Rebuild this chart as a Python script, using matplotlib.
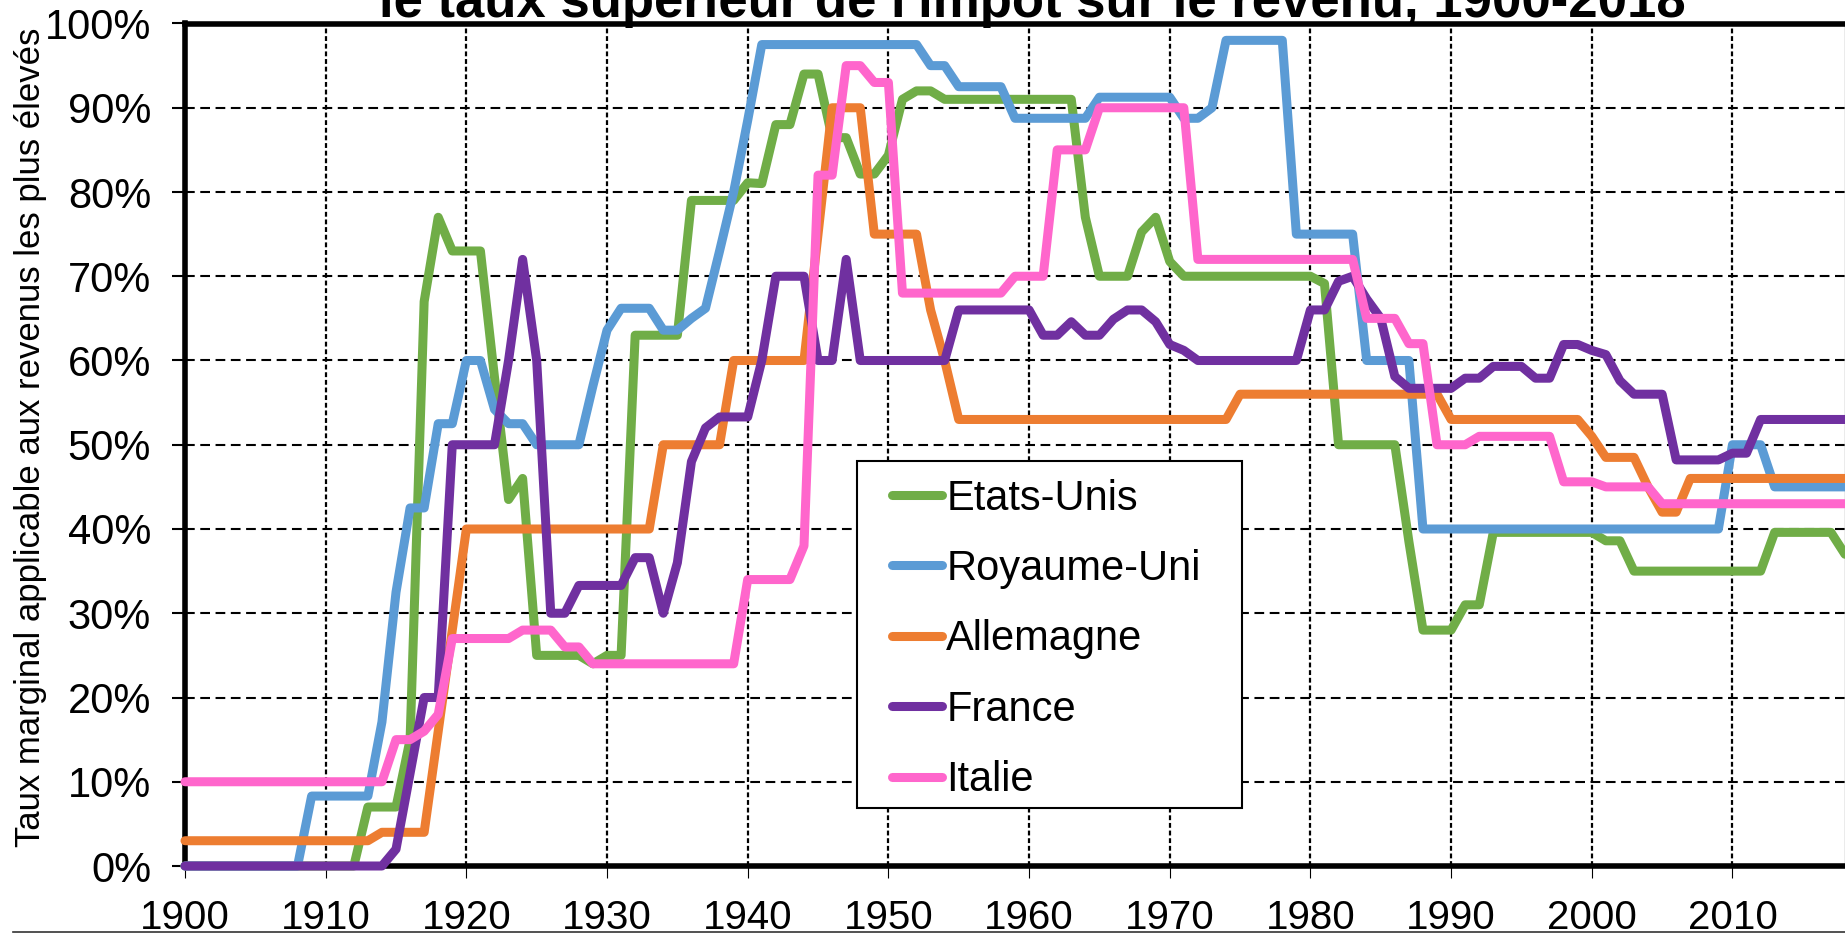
import matplotlib
matplotlib.use('Agg')
import matplotlib.pyplot as plt
from matplotlib.lines import Line2D
from matplotlib.patches import Rectangle
from matplotlib.ticker import PercentFormatter

plt.rcParams['font.family'] = ['Liberation Sans', 'DejaVu Sans']
plt.rcParams['lines.scale_dashes'] = False

# Taux marginal supérieur (%), une valeur par année 1900-2018
annees = list(range(1900, 2019))

etats_unis = [
    0, 0, 0, 0, 0, 0, 0, 0, 0, 0,
    0, 0, 0, 7, 7, 7, 15, 67, 77, 73,
    73, 73, 58, 43.5, 46, 25, 25, 25, 25, 24,
    25, 25, 63, 63, 63, 63, 79, 79, 79, 79,
    81.1, 81, 88, 88, 94, 94, 86.45, 86.45, 82.13, 82.13,
    84.36, 91, 92, 92, 91, 91, 91, 91, 91, 91,
    91, 91, 91, 91, 77, 70, 70, 70, 75.25, 77,
    71.75, 70, 70, 70, 70, 70, 70, 70, 70, 70,
    70, 69.13, 50, 50, 50, 50, 50, 38.5, 28, 28,
    28, 31, 31, 39.6, 39.6, 39.6, 39.6, 39.6, 39.6, 39.6,
    39.6, 38.6, 38.6, 35, 35, 35, 35, 35, 35, 35,
    35, 35, 35, 39.6, 39.6, 39.6, 39.6, 39.6, 37]

royaume_uni = [
    0, 0, 0, 0, 0, 0, 0, 0, 0, 8.3,
    8.3, 8.3, 8.3, 8.3, 17.1, 32.5, 42.5, 42.5, 52.5, 52.5,
    60, 60, 54.2, 52.5, 52.5, 50, 50, 50, 50, 57,
    63.6, 66.2, 66.2, 66.2, 63.6, 63.6, 65, 66.2, 73, 80,
    88.5, 97.5, 97.5, 97.5, 97.5, 97.5, 97.5, 97.5, 97.5, 97.5,
    97.5, 97.5, 97.5, 95, 95, 92.5, 92.5, 92.5, 92.5, 88.75,
    88.75, 88.75, 88.75, 88.75, 88.75, 91.25, 91.25, 91.25, 91.25, 91.25,
    91.25, 88.75, 88.75, 90, 98, 98, 98, 98, 98, 75,
    75, 75, 75, 75, 60, 60, 60, 60, 40, 40,
    40, 40, 40, 40, 40, 40, 40, 40, 40, 40,
    40, 40, 40, 40, 40, 40, 40, 40, 40, 40,
    50, 50, 50, 45, 45, 45, 45, 45, 45]

allemagne = [
    3, 3, 3, 3, 3, 3, 3, 3, 3, 3,
    3, 3, 3, 3, 4, 4, 4, 4, 16, 28,
    40, 40, 40, 40, 40, 40, 40, 40, 40, 40,
    40, 40, 40, 40, 50, 50, 50, 50, 50, 60,
    60, 60, 60, 60, 60, 75, 90, 90, 90, 75,
    75, 75, 75, 66, 60, 53, 53, 53, 53, 53,
    53, 53, 53, 53, 53, 53, 53, 53, 53, 53,
    53, 53, 53, 53, 53, 56, 56, 56, 56, 56,
    56, 56, 56, 56, 56, 56, 56, 56, 56, 56,
    53, 53, 53, 53, 53, 53, 53, 53, 53, 53,
    51, 48.5, 48.5, 48.5, 45, 42, 42, 46, 46, 46,
    46, 46, 46, 46, 46, 46, 46, 46, 46]

france = [
    0, 0, 0, 0, 0, 0, 0, 0, 0, 0,
    0, 0, 0, 0, 0, 2, 11, 20, 20, 50,
    50, 50, 50, 60, 72, 60, 30, 30, 33.3, 33.3,
    33.3, 33.3, 36.6, 36.6, 30, 36, 48, 52, 53.3, 53.3,
    53.3, 60, 70, 70, 70, 60, 60, 72, 60, 60,
    60, 60, 60, 60, 60, 66, 66, 66, 66, 66,
    66, 63, 63, 64.6, 63, 63, 64.9, 66, 66, 64.6,
    61.9, 61.2, 60, 60, 60, 60, 60, 60, 60, 60,
    66, 66, 69.4, 70, 67.3, 65, 58.1, 56.7, 56.7, 56.7,
    56.7, 57.9, 57.9, 59.3, 59.3, 59.3, 57.9, 57.9, 61.9, 61.9,
    61.2, 60.7, 57.6, 56, 56, 56, 48.2, 48.2, 48.2, 48.2,
    49, 49, 53, 53, 53, 53, 53, 53, 53]

italie = [
    10, 10, 10, 10, 10, 10, 10, 10, 10, 10,
    10, 10, 10, 10, 10, 15, 15, 16, 18, 27,
    27, 27, 27, 27, 28, 28, 28, 26, 26, 24,
    24, 24, 24, 24, 24, 24, 24, 24, 24, 24,
    34, 34, 34, 34, 38, 82, 82, 95, 95, 93,
    93, 68, 68, 68, 68, 68, 68, 68, 68, 70,
    70, 70, 85, 85, 85, 90, 90, 90, 90, 90,
    90, 90, 72, 72, 72, 72, 72, 72, 72, 72,
    72, 72, 72, 72, 65, 65, 65, 62, 62, 50,
    50, 50, 51, 51, 51, 51, 51, 51, 45.6, 45.6,
    45.6, 45, 45, 45, 45, 43, 43, 43, 43, 43,
    43, 43, 43, 43, 43, 43, 43, 43, 43]

pays = ['Etats-Unis', 'Royaume-Uni', 'Allemagne', 'France', 'Italie']
series = [etats_unis, royaume_uni, allemagne, france, italie]
couleurs = ['#70AD47', '#5B9BD5', '#ED7D31', '#7030A0', '#FF66CC']

fig = plt.figure(figsize=(18.45, 9.34), dpi=100)
ax = fig.add_axes([185/1845, 1 - 866/934, 1660/1845, 842.5/934])

for nom, serie, c in zip(pays, series, couleurs):
    ax.plot(annees, serie, color=c, lw=6.5, label=nom, zorder=3, clip_on=False,
            solid_joinstyle='round', solid_capstyle='round')

ax.set_xlim(1900, 2018)
ax.set_ylim(0, 100)
ax.set_xticks(range(1900, 2011, 10))
ax.set_yticks(range(0, 101, 10))
ax.yaxis.set_major_formatter(PercentFormatter(decimals=0))

# grille en pointillés
ax.set_axisbelow(True)
ax.grid(axis='y', color='black', lw=1.5, linestyle=(0, (7, 4)))
ax.grid(axis='x', color='black', lw=1.6, linestyle=(0, (3.5, 2)))

ax.tick_params(axis='y', direction='out', length=9.4, width=1.5, pad=15, labelsize=30)
ax.tick_params(axis='x', direction='out', length=8.6, width=0.8, pad=15, labelsize=29)

for s in ['left', 'bottom', 'top']:
    ax.spines[s].set_linewidth(4)
ax.spines['right'].set_linewidth(1)
ax.spines['right'].set_color('#999999')

# légende : cadre dessiné à part
cadre = Rectangle((0.4048, 0.0688), 0.2319, 0.4119, transform=ax.transAxes,
                  facecolor='white', edgecolor='black', lw=1.5, zorder=4, clip_on=False)
ax.add_patch(cadre)
leg = ax.legend(loc='upper left', bbox_to_anchor=(0.4259, 0.4598), frameon=False,
                fontsize=30, handlelength=1.2, handletextpad=0.1, labelspacing=0.73,
                borderpad=0, borderaxespad=0)
leg.set_zorder(5)

fig.text(31/1845, 1 - 437.5/934, 'Taux marginal applicable aux revenus les plus élevés',
         rotation=90, ha='center', va='center', fontsize=25)
fig.text(0.5593, 1 - 16.7/934, "le taux supérieur de l'impôt sur le revenu, 1900-2018",
         ha='center', va='baseline', fontsize=38, fontweight='bold')

fig.add_artist(Line2D([13/1845, 1], [1 - 931.7/934] * 2, transform=fig.transFigure,
                      color='#333333', lw=1.2))

fig.savefig('out.png', dpi=100)
